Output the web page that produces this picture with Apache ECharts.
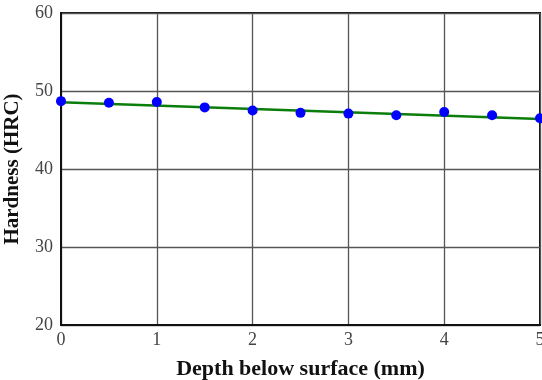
<!DOCTYPE html>
<html><head><meta charset="utf-8">
<script src="https://cdn.jsdelivr.net/npm/echarts@6/dist/echarts.min.js"></script>
<style>html,body{margin:0;padding:0;background:#fff}#c{width:542px;height:380px}</style>
</head><body><div id="c"></div>
<script>
const depth = [0, 0.5, 1, 1.5, 2, 2.5, 3, 3.5, 4, 4.5, 5];
const hardness = [48.7, 48.5, 48.6, 47.9, 47.5, 47.2, 47.1, 46.9, 47.3, 46.9, 46.5];
const fitX = [0, 5];
const fitY = [48.55, 46.4];
const xTitle = 'Depth below surface (mm)';
const yTitle = 'Hardness (HRC)';

const chart = echarts.init(document.getElementById('c'));
const font = 'Liberation Serif';
chart.setOption({
  animation: false,
  grid: {left: 61, right: 2, top: 13, bottom: 55, show: true, borderColor: '#111', borderWidth: 2,
         containLabel: false, outerBoundsMode: 'none'},
  xAxis: {
    type: 'value', min: 0, max: 5, interval: 1,
    name: xTitle, nameLocation: 'middle', nameGap: 33,
    nameTextStyle: {fontFamily: font, fontSize: 22, fontWeight: 'bold', color: '#111'},
    axisLine: {show: true, lineStyle: {color: '#111', width: 2}},
    axisTick: {show: false},
    axisLabel: {fontFamily: font, fontSize: 18, color: '#444', margin: 6},
    splitLine: {show: true, lineStyle: {color: '#555', width: 1.3}}
  },
  yAxis: {
    type: 'value', min: 20, max: 60, interval: 10,
    name: yTitle, nameLocation: 'middle', nameGap: 38,
    nameTextStyle: {fontFamily: font, fontSize: 21, fontWeight: 'bold', color: '#111'},
    axisLine: {show: true, lineStyle: {color: '#111', width: 2}},
    axisTick: {show: false},
    axisLabel: {fontFamily: font, fontSize: 18, color: '#444', margin: 8},
    splitLine: {show: true, lineStyle: {color: '#555', width: 1.3}}
  },
  series: [
    {type: 'line', data: fitX.map((x, i) => [x, fitY[i]]), symbol: 'none',
     lineStyle: {color: '#0a7d0a', width: 2.5}, z: 3},
    {type: 'scatter', data: depth.map((x, i) => [x, hardness[i]]), symbol: 'circle', symbolSize: 10,
     itemStyle: {color: '#0000ff', opacity: 1}, z: 4}
  ]
});
</script></body></html>
